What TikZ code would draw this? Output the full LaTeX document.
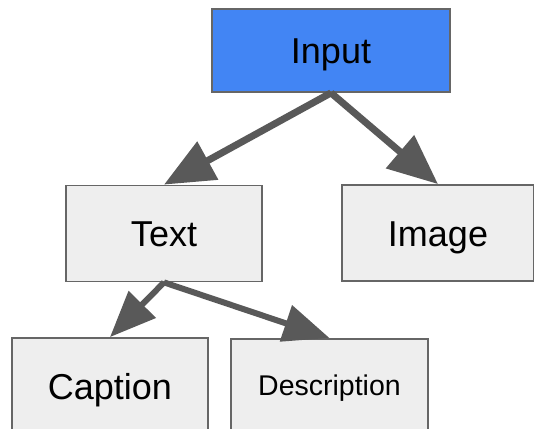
\documentclass[tikz,border=0pt]{standalone}
\usepackage{fontspec}
\setmainfont{Liberation Sans}
\usetikzlibrary{arrows.meta}
\definecolor{boxfill}{HTML}{EEEEEE}
\definecolor{boxline}{HTML}{666666}
\definecolor{inblue}{HTML}{4285F4}
\definecolor{arrowgray}{HTML}{595959}
\begin{document}
\begin{tikzpicture}[x=1pt,y=-1pt,
  box/.style={draw=boxline, line width=1.8pt, fill=boxfill,
    minimum width=196pt, minimum height=96pt, inner sep=0pt,
    font=\fontsize{36}{40}\selectfont, text height=26pt, text depth=0pt},
  link/.style={draw=arrowgray, line width=7pt,
    -{Triangle[length=50pt,width=42pt]}},
  sublink/.style={draw=arrowgray, line width=6pt,
    -{Triangle[length=46pt,width=37pt]}}]
\path[use as bounding box] (0,0) rectangle (534,428);
\clip (0,0) rectangle (534,428);
% boxes
\node[box, fill=inblue, minimum width=238pt, minimum height=83pt] (input) at (331,50.5) {Input};
\node[box] (text) at (164,233.5) {Text};
\node[box, minimum width=192pt] (image) at (438,233) {Image};
\node[box] (caption) at (110,386) {Caption};
\node[box, minimum width=197pt, font=\fontsize{28.5}{32}\selectfont, text height=20.5pt, anchor=north] (desc) at (329.5,338) {\raisebox{2pt}{Description}};
% connectors
\draw[link] (input.south) -- (text.north);
\draw[link] (input.south) -- (image.north);
\draw[sublink] (text.south) -- (caption.north);
\draw[sublink] (text.south) -- (desc.north);
\end{tikzpicture}
\end{document}
